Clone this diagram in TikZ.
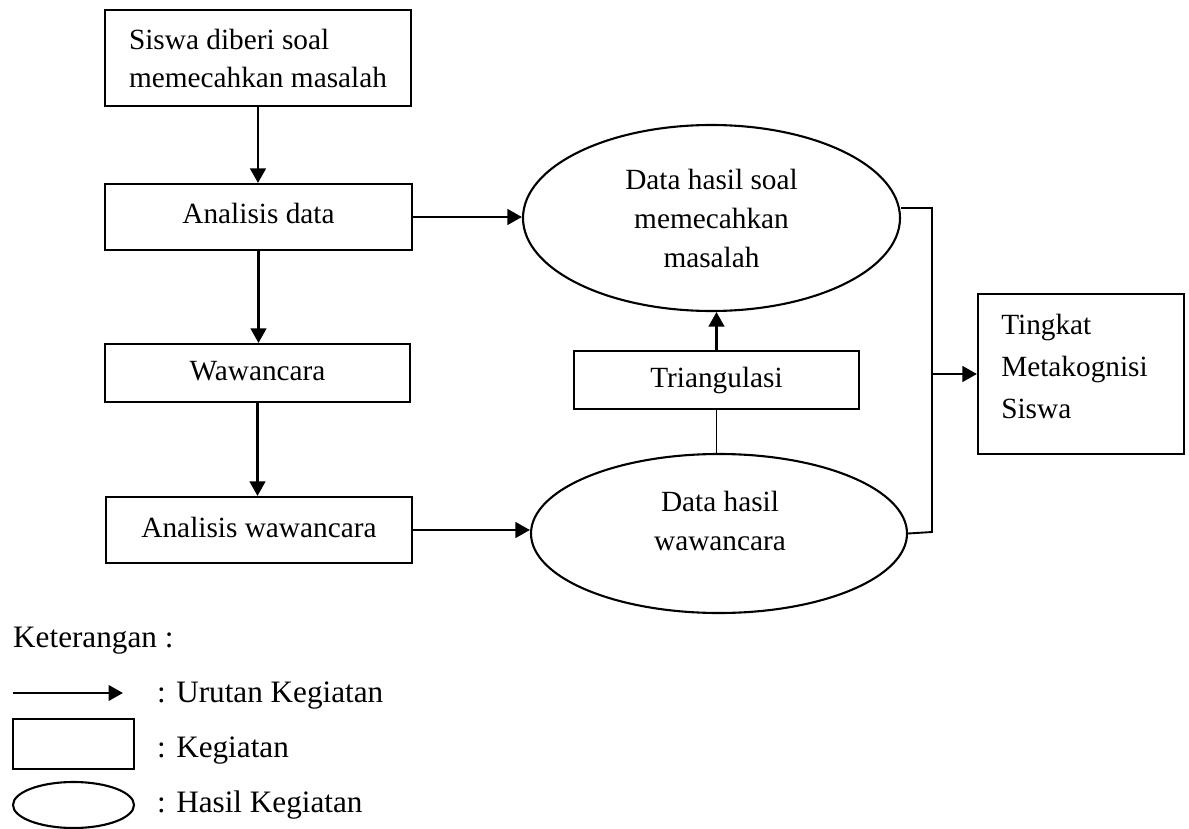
\documentclass[tikz,border=0pt]{standalone}
\usepackage{fontspec}
\setmainfont{Liberation Serif}
\usetikzlibrary{shapes.geometric,arrows.meta,calc}
\newcommand\dfont{\fontsize{29.3}{38}\selectfont}
\newcommand\lgfont{\fontsize{31.2}{38}\selectfont}
\begin{document}
\begin{tikzpicture}[x=1pt,y=-1pt,
  box/.style={draw, line width=2.1pt, rectangle, inner sep=0pt, font=\dfont},
  sbox/.style={box, text height=20pt, text depth=6pt},
  ell/.style={draw, line width=2.1pt, ellipse, inner sep=0pt, font=\dfont},
  arr/.style={line width=2.6pt, -{Triangle[length=14.5pt,width=15.5pt]}},
  conn/.style={line width=1.9pt},
  txt/.style={font=\dfont, inner sep=0pt},
  lgtxt/.style={font=\lgfont, inner sep=0pt, anchor=base west}]
\useasboundingbox (0,0) rectangle (1189,829);

% main column
\node[box, minimum width=306pt, minimum height=96pt, align=left] (b1) at (258,58) {Siswa diberi soal\\memecahkan masalah};
\node[sbox, minimum width=307pt, minimum height=66pt] (b2) at (258.5,217) {Analisis data};
\node[sbox, minimum width=305pt, minimum height=58pt] (b3) at (257.5,373) {Wawancara};
\node[sbox, minimum width=306pt, minimum height=66pt] (b4) at (259,530) {Analisis wawancara};

% results
\node[ell, minimum width=377pt, minimum height=186pt, align=center, font=\fontsize{29.3}{39}\selectfont] (e1) at (711.5,218) {Data hasil soal\\memecahkan\\masalah};
\node[sbox, minimum width=285pt, minimum height=58pt] (tri) at (716.5,380) {Triangulasi};
\node[ell, minimum width=376pt, minimum height=159pt] (e2) at (719,533.5) {};
\node[txt, align=center, font=\fontsize{29.3}{39}\selectfont] (e2t) at (720,520.5) {Data hasil\\wawancara};

\node[box, minimum width=206pt, minimum height=160pt] (res) at (1081,374) {};
\node[txt, align=left, font=\fontsize{29.3}{42}\selectfont] (rest) at (1074.5,366) {Tingkat\\Metakognisi\\Siswa};

% connectors
\draw[arr] (b1.south) -- (b1.south |- b2.north);
\draw[arr] (b2.south) -- (b2.south |- b3.north);
\draw[arr] (b3.south) -- (b3.south |- b4.north);
\draw[arr] (b2.east) -- (b2.east -| e1.west);
\draw[arr] (b4.east) -- (b4.east -| e2.west);
\draw[arr] (tri.north) -- (tri.north |- e1.south);
\draw[conn] (tri.south) -- (tri.south |- e2.north);

\coordinate (jt) at (932,208);
\coordinate (jb) at (932,532);
\draw[conn] ([yshift=10pt]e1.east) -- (jt) -- (jb) -- (e2.east);
\draw[arr] (jt |- res.west) -- (res.west);

% legend
\node[lgtxt] (ket) at (13,647) {Keterangan :};
\coordinate (la1) at (13,693);
\coordinate (la2) at (123,693);
\draw[arr] (la1) -- (la2);
\node[lgtxt] (l1) at (157,702) {: Urutan Kegiatan};
\node[box, minimum width=121pt, minimum height=50pt] (lbox) at (73.5,744) {};
\node[lgtxt] (l2) at (157,757) {: Kegiatan};
\node[ell, minimum width=121pt, minimum height=46pt] (lell) at (73.5,805) {};
\node[lgtxt] (l3) at (157,812) {: Hasil Kegiatan};
\end{tikzpicture}
\end{document}
